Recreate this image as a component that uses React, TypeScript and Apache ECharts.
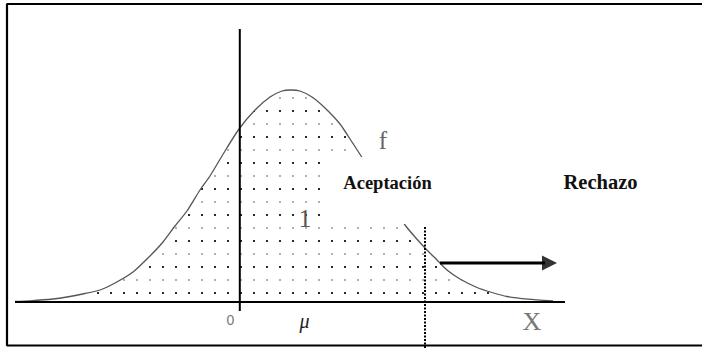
import React, { useEffect, useRef } from "react";
import * as echarts from "echarts";

// Normal density curve (x: horizontal units, y: height above the X axis)
const curveX = [15, 30, 53, 67, 85, 100, 115, 133, 150, 163, 175, 187, 200, 210, 225, 239, 255, 270, 282, 291, 300, 312, 325, 340, 352, 363, 375, 390, 405, 415, 425, 437, 447, 460, 477, 492, 507, 528, 553];
const curveY = [0.5, 1.2, 3, 5, 8.5, 12, 19, 30, 46, 60, 76, 91, 112, 126, 151, 173, 192, 205, 211, 212, 211, 205, 194, 178, 160, 143, 124, 100, 77, 65, 54, 42, 32, 23, 14.5, 9.5, 5.5, 2.8, 1];

// Axes of the diagram
const xAxisLine = [[15, 0], [565, 0]];
const yAxisLine = [[239.8, -9], [239.8, 273]];
// Critical value (dotted boundary between acceptance and rejection)
const criticalX = 425;
const criticalLine = [[criticalX, 75], [criticalX, -47]];
// Arrow pointing to the rejection region
const arrowLine = [[440, 39], [545, 39]];
const arrowHead = [[549.5, 39]];
// Frame of the figure
const frameLine = [[702, 298], [7, 298], [7, -43.5], [702, -43.5]];
// White cut-out behind the labels [x0, yTop, x1, yBottom]
const maskRegion = [[326, 145, 470, 78]];

// Labels
const labelF = "f";
const labelAccept = "Aceptación";
const labelReject = "Rechazo";
const labelOne = "1";
const labelZero = "0";
const labelMu = "μ";
const labelX = "X";

export default function App() {
  const ref = useRef<HTMLDivElement>(null);

  useEffect(() => {
    document.body.style.margin = "0";
    const el = ref.current!;
    const chart = echarts.init(el, null, { renderer: "svg" });

    // dotted fill tile
    const tile = document.createElement("canvas");
    tile.width = 13;
    tile.height = 26;
    const ctx = tile.getContext("2d")!;
    ctx.fillStyle = "#2a2a2a";
    ctx.fillRect(6, 6, 2, 2);
    ctx.fillStyle = "#b0b0b0";
    ctx.fillRect(6, 19, 2, 2);
    const tileUrl = tile.toDataURL();

    const curveData = curveX.map((x, i) => [x, curveY[i]]);

    const label = (
      text: string,
      x: number,
      y: number,
      size: number,
      fill: string,
      family: string,
      weight: string = "normal",
      fontStyle: string = "normal"
    ) => ({
      type: "text",
      x,
      y,
      z: 100,
      silent: true,
      style: {
        text,
        fontFamily: family,
        fontSize: size,
        fontWeight: weight,
        fontStyle,
        fill,
        align: "center",
        verticalAlign: "middle",
        textAlign: "center",
        textVerticalAlign: "middle",
      },
    });

    const option: any = {
      animation: false,
      backgroundColor: "#ffffff",
      grid: { left: 0, top: 0, width: 702, height: 349, containLabel: false },
      xAxis: { type: "value", min: 0, max: 702, show: false },
      yAxis: { type: "value", min: -47, max: 302, show: false },
      series: [
        {
          name: "f",
          type: "line",
          data: curveData,
          symbol: "none",
          smooth: 0.2,
          clip: false,
          z: 2,
          lineStyle: { color: "#555555", width: 1.3 },
          areaStyle: {
            origin: 0,
            opacity: 1,
            color: { image: tileUrl, repeat: "repeat", imageWidth: 13, imageHeight: 26 },
          },
          silent: true,
        },
        {
          name: "xAxisLine",
          type: "line",
          data: xAxisLine,
          symbol: "none",
          clip: false,
          z: 3,
          lineStyle: { color: "#000", width: 2 },
          silent: true,
        },
        {
          name: "yAxisLine",
          type: "line",
          data: yAxisLine,
          symbol: "none",
          clip: false,
          z: 3,
          lineStyle: { color: "#000", width: 2 },
          silent: true,
        },
        {
          name: "mask",
          type: "custom",
          z: 5,
          silent: true,
          data: maskRegion,
          encode: { x: [0, 2], y: [1, 3] },
          renderItem: (params: any, api: any) => {
            const a = api.coord([api.value(0), api.value(1)]);
            const b = api.coord([api.value(2), api.value(3)]);
            return {
              type: "rect",
              shape: { x: a[0], y: a[1], width: b[0] - a[0], height: b[1] - a[1] },
              style: { fill: "#ffffff" },
            };
          },
        },
        {
          name: "critical",
          type: "line",
          data: criticalLine,
          symbol: "none",
          clip: false,
          z: 6,
          lineStyle: { color: "#000", width: 2, type: [2, 1.5] },
          silent: true,
        },
        {
          name: "arrow",
          type: "line",
          data: arrowLine,
          symbol: "none",
          clip: false,
          z: 6,
          lineStyle: { color: "#000", width: 3 },
          silent: true,
        },
        {
          name: "arrowHead",
          type: "scatter",
          data: arrowHead,
          symbol: "triangle",
          symbolSize: [15, 15],
          symbolRotate: -90,
          clip: false,
          z: 6,
          itemStyle: { color: "#000" },
          silent: true,
        },
        {
          name: "frame",
          type: "line",
          data: frameLine,
          symbol: "none",
          clip: false,
          z: 6,
          lineStyle: { color: "#000", width: 2.2 },
          silent: true,
        },
      ],
      graphic: [
        label(labelF, 383, 140.5, 25, "#666", "Liberation Serif"),
        label(labelOne, 305, 218, 26, "#555", "Liberation Serif"),
        label(labelZero, 230.5, 320, 14, "#777", "Liberation Sans"),
        label(labelX, 532, 321.5, 26, "#777", "Liberation Serif"),
        label(labelMu, 304.5, 321, 20, "#222", "Liberation Serif", "normal", "italic"),
        label(labelAccept, 387.5, 183, 18.5, "#111", "Liberation Serif", "bold"),
        label(labelReject, 600.5, 182, 20.5, "#111", "Liberation Serif", "bold"),
      ],
    };

    chart.setOption(option);
    return () => chart.dispose();
  }, []);

  return <div ref={ref} style={{ width: 702, height: 349 }} />;
}
